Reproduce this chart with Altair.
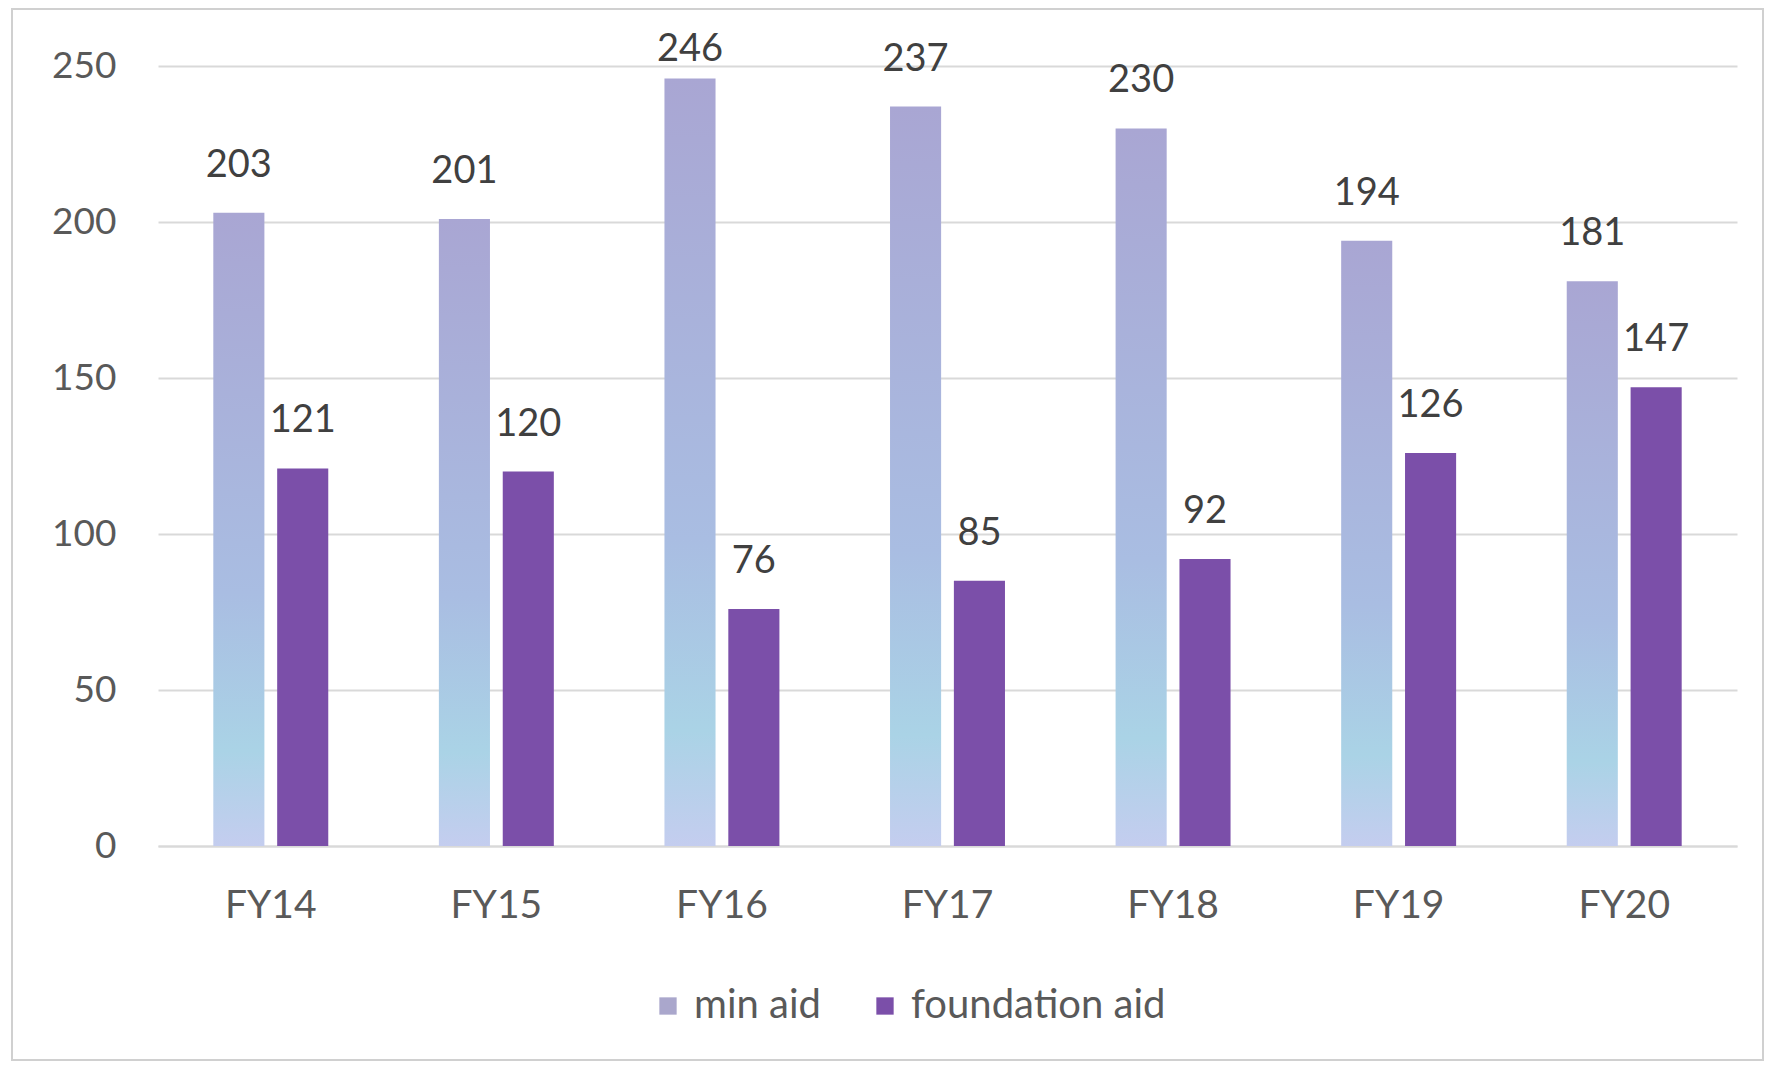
import altair as alt
import pandas as pd

years = ["FY14", "FY15", "FY16", "FY17", "FY18", "FY19", "FY20"]
min_aid = [203, 201, 246, 237, 230, 194, 181]
foundation_aid = [121, 120, 76, 85, 92, 126, 147]
series = ["min aid", "foundation aid"]
y_ticks = [0, 50, 100, 150, 200, 250]

rows = []
for i, yr in enumerate(years):
    rows.append({"year": yr, "series": series[0], "value": min_aid[i]})
    rows.append({"year": yr, "series": series[1], "value": foundation_aid[i]})
df = pd.DataFrame(rows)

FONT = "Lato"

x_enc = alt.X("year:N", sort=years,
              scale=alt.Scale(paddingInner=0, paddingOuter=0),
              axis=alt.Axis(title=None, labelAngle=0, labelFontSize=39, labelColor="#595959",
                            labelFont=FONT, labelPadding=40, ticks=False,
                            domainColor="#d9d9d9", domainWidth=2))
xoff = alt.XOffset("series:N", sort=series,
                   scale=alt.Scale(domain=series, paddingInner=0.2, paddingOuter=0.866))
y_scale = alt.Scale(domain=[0, 250], nice=False)
y_enc = alt.Y("value:Q", scale=y_scale,
              axis=alt.Axis(title=None, values=y_ticks, labelFontSize=37, labelColor="#595959",
                            labelFont=FONT, labelPadding=42, ticks=False, domain=False,
                            gridColor="#d9d9d9", gridWidth=2))

grad = alt.Gradient(gradient="linear",
                    stops=[alt.GradientStop(color="#a9a6d3", offset=0),
                           alt.GradientStop(color="#a9bde2", offset=0.6),
                           alt.GradientStop(color="#aad3e6", offset=0.85),
                           alt.GradientStop(color="#c4cdef", offset=1)],
                    x1=0, x2=0, y1=0, y2=1)

base = alt.Chart(df)

min_bars = base.transform_filter(alt.datum.series == "min aid").mark_bar(
    color=grad).encode(x=x_enc, xOffset=xoff, y=y_enc)

found_bars = base.transform_filter(alt.datum.series == "foundation aid").mark_bar().encode(
    x=x_enc, xOffset=xoff, y=y_enc,
    color=alt.Color("series:N",
                    scale=alt.Scale(domain=series, range=["#aaa7cc", "#7b4fa9"]),
                    legend=alt.Legend(title=None, orient="none", legendX=490, legendY=920,
                                      direction="horizontal", labelFontSize=40,
                                      labelFont=FONT, labelColor="#595959",
                                      symbolType="square", symbolSize=300,
                                      symbolStrokeWidth=0, columnPadding=44,
                                      labelOffset=6, labelLimit=0)))

labels = base.transform_calculate(
    label_pos="min(datum.value, 240)"
).mark_text(fontSize=38, font=FONT, color="#404040", baseline="bottom", dy=-28).encode(
    x=x_enc, xOffset=xoff,
    y=alt.Y("label_pos:Q", scale=y_scale),
    text="value:Q")

frame = alt.Chart(pd.DataFrame({"k": [0]})).mark_rect(
    fill=None, stroke="#d0d0d0", strokeWidth=2).encode(
    x=alt.value(-146), x2=alt.value(1605), y=alt.value(-57), y2=alt.value(994))

chart = alt.layer(frame, min_bars, found_bars, labels).properties(
    width=1579, height=780,
    background="white",
    autosize=alt.AutoSizeParams(type="none"),
    padding={"left": 150, "top": 58, "right": 29, "bottom": 220},
).configure_view(strokeWidth=0, stroke="transparent")

chart.save("out.html", embed_options={"renderer": "svg", "actions": False})
